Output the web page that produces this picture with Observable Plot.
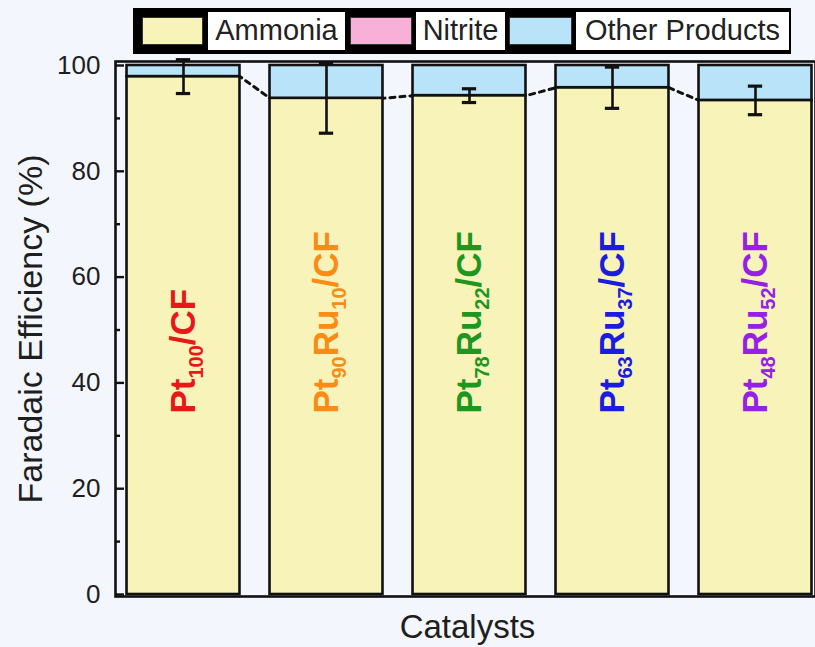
<!DOCTYPE html>
<html>
<head>
<meta charset="utf-8">
<script src="https://cdn.jsdelivr.net/npm/d3@7"></script>
<script src="https://cdn.jsdelivr.net/npm/@observablehq/plot@0.6"></script>
<style>
  html, body { margin: 0; padding: 0; background: #f3f6fc; }
  body { width: 815px; height: 647px; overflow: hidden; font-family: "Liberation Sans", Arial, sans-serif; }
  #legend { position: relative; width: 815px; height: 56px; }
  #legend .box { position: absolute; }
  #legend .lab { position: absolute; background: #fff; color: #222; font-size: 29px; line-height: 37px; text-align: center; box-sizing: border-box; border: 1.5px solid #000; }
  #chart svg { display: block; background: transparent; overflow: visible; }
</style>
</head>
<body>
<div id="legend"></div>
<div id="chart"></div>
<script>
// ---- data ----
const catalysts = ["Pt100/CF", "Pt90Ru10/CF", "Pt78Ru22/CF", "Pt63Ru37/CF", "Pt48Ru52/CF"];
const labelColors = ["#e81818", "#f98c14", "#1f961f", "#1c1ce0", "#9620e6"];
const ammonia = [97.9, 93.8, 94.3, 95.8, 93.4];
const nitrite = [0, 0, 0, 0, 0];
const ammoniaErr = [3.2, 6.6, 1.3, 3.9, 2.7];
const yTicks = [0, 20, 40, 60, 80, 100];
const yMinorTicks = [10, 30, 50, 70, 90];
const seriesNames = ["Ammonia", "Nitrite", "Other Products"];
const seriesColors = ["#f7f3b9", "#f8b0d8", "#b8e3f8"];

const data = catalysts.map((c, i) => ({
  i, label: c, color: labelColors[i],
  ammonia: ammonia[i], nitrite: nitrite[i],
  other: 100 - ammonia[i] - nitrite[i], err: ammoniaErr[i]
}));

// ---- legend (HTML) ----
const legend = document.getElementById("legend");
function box(style, cls) { const d = document.createElement("div"); d.className = cls || "box"; Object.assign(d.style, style); legend.appendChild(d); return d; }
box({left: "133px", top: "8px", width: "658px", height: "46px", background: "#000"});
const legendLayout = [
  {sw: 142, swW: 61, lab: 207, labW: 139},
  {sw: 350, swW: 62, lab: 415, labW: 91},
  {sw: 509, swW: 63, lab: 575, labW: 215}
];
legendLayout.forEach((L, k) => {
  box({left: L.sw + "px", top: "17px", width: L.swW + "px", height: "28px", background: seriesColors[k], border: "1px solid #333", boxSizing: "border-box"});
  const t = box({left: L.lab + "px", top: "11px", width: L.labW + "px", height: "40px"}, "lab");
  t.textContent = seriesNames[k];
});

// ---- chart ----
const hw = 0.395;   // half bar width in category units
const capHalf = 0.05; // half error-cap width in category units
const dashPts = data.flatMap(d => [{x: d.i - hw, y: d.ammonia}, {x: d.i + hw, y: d.ammonia}]);
const caps = data.flatMap(d => [{i: d.i, y: d.ammonia - d.err}, {i: d.i, y: d.ammonia + d.err}]);

const plot = Plot.plot({
  width: 815,
  height: 591,
  marginLeft: 115,
  marginRight: 0,
  marginTop: 5,
  marginBottom: 51,
  style: {background: "transparent", fontFamily: "Liberation Sans, Arial, sans-serif", color: "#1e1e1e"},
  x: {domain: [0, 4], range: [183, 755], axis: null},
  y: {domain: [0, 100], range: [538, 9], axis: null},
  marks: [
    Plot.line(dashPts, {x: "x", y: "y", stroke: "#111", strokeWidth: 3, strokeDasharray: "5,5"}),
    Plot.rectY(data, {x1: d => d.i - hw, x2: d => d.i + hw, y1: 0, y2: "ammonia", fill: seriesColors[0], stroke: "#111", strokeWidth: 2.6}),
    Plot.rectY(data.filter(d => d.nitrite > 0), {x1: d => d.i - hw, x2: d => d.i + hw, y1: "ammonia", y2: d => d.ammonia + d.nitrite, fill: seriesColors[1], stroke: "#111", strokeWidth: 2.6}),
    Plot.rectY(data, {x1: d => d.i - hw, x2: d => d.i + hw, y1: d => d.ammonia + d.nitrite, y2: 100, fill: seriesColors[2], stroke: "#111", strokeWidth: 2.6}),
    Plot.ruleX(data, {x: "i", y1: d => d.ammonia - d.err, y2: d => d.ammonia + d.err, stroke: "#111", strokeWidth: 2.6}),
    Plot.ruleY(caps, {x1: d => d.i - capHalf, x2: d => d.i + capHalf, y: "y", stroke: "#111", strokeWidth: 3.2}),
    Plot.text(data, {x: "i", y: () => 34.2, text: "label", rotate: -90, textAnchor: "start", fill: "color", fontWeight: "bold", fontSize: 35}),
    Plot.frame({stroke: "#111", strokeWidth: 2.6}),
    Plot.axisY({ticks: yMinorTicks, tickSize: -5, tickFormat: () => "", stroke: "#111", strokeWidth: 2.4, label: null}),
    Plot.axisY({ticks: yTicks, tickSize: -9, tickPadding: 24, fontSize: 26, stroke: "#111", strokeWidth: 2.4, label: null}),
    Plot.text(["Faradaic Efficiency (%)"], {frameAnchor: "left", textAnchor: "middle", rotate: -90, dx: -84, fontSize: 34, fill: "#1e1e1e"}),
    Plot.text(["Catalysts"], {frameAnchor: "bottom", textAnchor: "middle", dx: 2, dy: 41, fontSize: 33, fill: "#1e1e1e"})
  ]
});
document.getElementById("chart").appendChild(plot);

// subscripts for catalyst labels
d3.select(plot).selectAll("text").each(function () {
  const s = this.textContent;
  if (!catalysts.includes(s)) return;
  const parts = s.split(/(\d+)/).filter(p => p.length);
  const sel = d3.select(this);
  sel.text(null);
  let shifted = false;
  parts.forEach(p => {
    const isNum = /^\d+$/.test(p);
    const t = sel.append("tspan").text(p);
    if (isNum) { t.attr("font-size", 20).attr("dy", shifted ? 0 : 8); shifted = true; }
    else { if (shifted) t.attr("dy", -8); t.attr("font-size", 35); shifted = false; }
  });
});
</script>
</body>
</html>
